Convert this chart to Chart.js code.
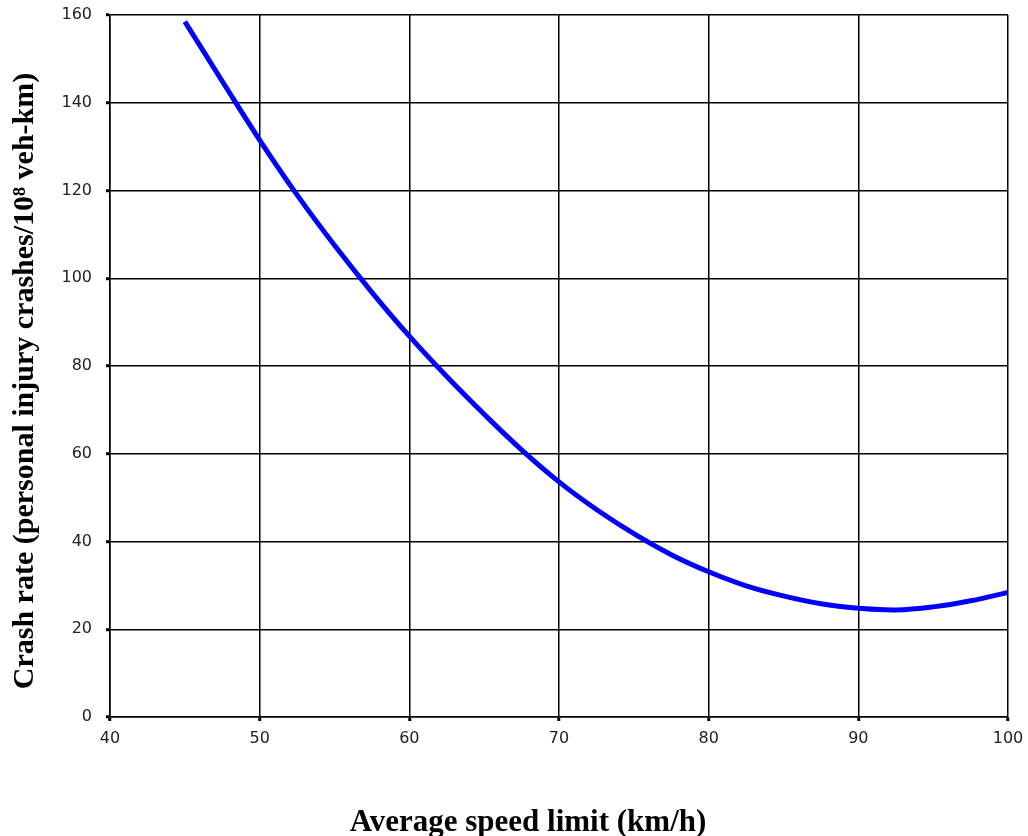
<!DOCTYPE html>
<html>
<head>
<meta charset="utf-8">
<script src="https://cdn.jsdelivr.net/npm/chart.js@4"></script>
<style>
  html, body { margin: 0; padding: 0; background: #fff; }
  #wrap { width: 1028px; height: 836px; }
</style>
</head>
<body>
<div id="wrap"><canvas id="crashChart" width="1028" height="836"></canvas></div>
<script>
// Speed (km/h) and crash rate
const speeds = [45, 47.5, 50, 52.5, 55, 57.5, 60, 62.5, 65, 67.5, 70, 72.5, 75, 77.5, 80, 82.5, 85, 87.5, 90, 92.5, 95, 97.5, 100];
const crashRates = [158.5, 144.9, 131.5, 119.0, 107.5, 96.8, 86.8, 77.6, 69.0, 60.9, 53.6, 47.3, 41.8, 37.0, 33.1, 29.9, 27.6, 25.8, 24.8, 24.4, 25.1, 26.5, 28.4];

// Axis tick values
const xTicks = [40, 50, 60, 70, 80, 90, 100];
const yTicks = [0, 20, 40, 60, 80, 100, 120, 140, 160];

const points = speeds.map((s, i) => ({ x: s, y: crashRates[i] }));

const tickFont = { family: "DejaVu Sans", size: 16 };

new Chart(document.getElementById("crashChart"), {
  type: "scatter",
  data: {
    datasets: [
      {
        data: points,
        showLine: true,
        borderColor: "#0000ff",
        borderWidth: 5,
        pointRadius: 0,
        tension: 0.4,
        fill: false,
      },
    ],
  },
  options: {
    responsive: false,
    animation: false,
    layout: { padding: { top: 15, right: 20, left: 0, bottom: 0 } },
    plugins: {
      legend: { display: false },
      tooltip: { enabled: false },
    },
    scales: {
      x: {
        type: "linear",
        min: 40,
        max: 100,
        afterBuildTicks: (axis) => { axis.ticks = xTicks.map((v) => ({ value: v })); },
        afterFit: (axis) => {
          axis.height = 119;
          axis.paddingLeft = 0;
          axis.paddingRight = 0;
        },
        ticks: { color: "#222", font: tickFont, padding: 8, maxRotation: 0 },
        grid: { color: "#000", lineWidth: 1.5, tickLength: 4, tickWidth: 3, tickColor: "#000" },
        border: { color: "#000", width: 1.5 },
        title: {
          display: true,
          // trailing spaces push the centred title a little to the left
          text: "Average speed limit (km/h)        ",
          color: "#000",
          font: { family: "Liberation Serif", size: 31, weight: "bold" },
          padding: { top: 0, bottom: -6 },
        },
      },
      y: {
        min: 0,
        max: 160,
        afterBuildTicks: (axis) => { axis.ticks = yTicks.map((v) => ({ value: v })); },
        afterFit: (axis) => {
          axis.width = 110;
          axis.paddingTop = 0;
          axis.paddingBottom = 0;
        },
        ticks: { color: "#222", font: tickFont, padding: 14 },
        grid: { color: "#000", lineWidth: 1.5, tickLength: 4, tickWidth: 3, tickColor: "#000" },
        border: { color: "#000", width: 1.5 },
        title: {
          display: true,
          text: "Crash rate (personal injury crashes/10⁸ veh-km)    ",
          color: "#000",
          font: { family: "Liberation Serif", size: 30, weight: "bold" },
          padding: { top: 7, bottom: 0 },
        },
      },
    },
  },
});
</script>
</body>
</html>
